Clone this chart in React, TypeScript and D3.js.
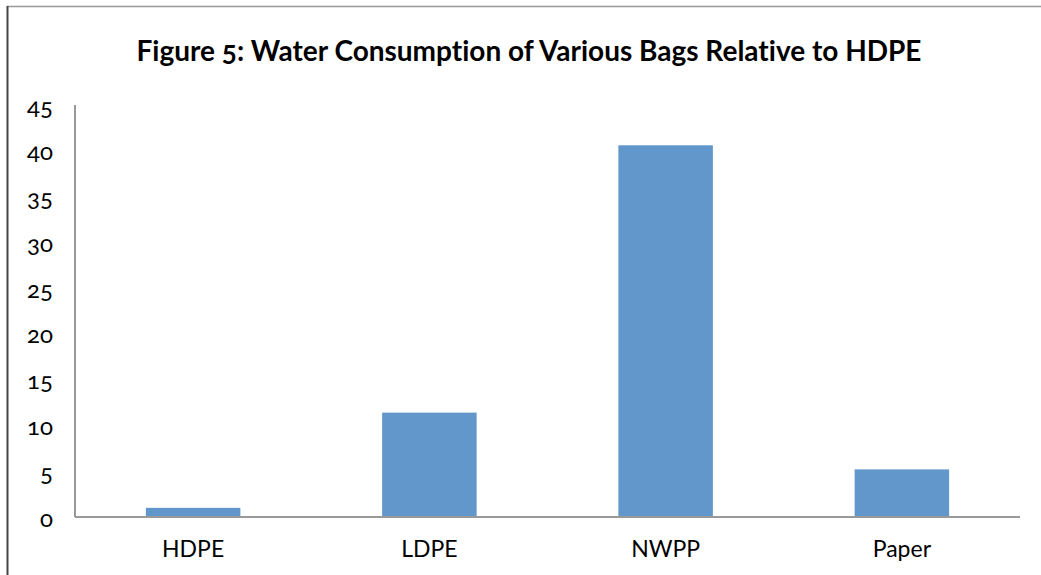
import React from "react";
import * as d3 from "d3";

const categories = ["HDPE", "LDPE", "NWPP", "Paper"];
const values = [1.0, 11.4, 40.6, 5.2];
const yTicks = [0, 5, 10, 15, 20, 25, 30, 35, 40, 45];
const title = "Figure 5: Water Consumption of Various Bags Relative to HDPE";

const W = 1041;
const H = 575;
const plot = { left: 75, right: 1020, top: 105, bottom: 517 };
const FONT = "Lato, 'Open Sans', sans-serif";

export default function App() {
  const x = d3
    .scaleBand<string>()
    .domain(categories)
    .range([plot.left, plot.right])
    .paddingInner(0.6)
    .paddingOuter(0.3);
  const y = d3.scaleLinear().domain([0, 45]).range([plot.bottom, plot.top]);

  return (
    <svg
      width={W}
      height={H}
      style={{ position: "absolute", left: 0, top: 0, background: "#fff" }}
      fontFamily={FONT}
    >
      {/* frame */}
      <line x1={7} x2={W} y1={6.5} y2={6.5} stroke="#999" strokeWidth={1.5} />
      <line x1={7.5} x2={7.5} y1={6} y2={H} stroke="#444" strokeWidth={2} />

      <text
        x={529}
        y={61}
        textAnchor="middle"
        fontSize={28}
        fontWeight="bold"
        fill="#000"
        style={{ fontVariantNumeric: "oldstyle-nums", fontVariantLigatures: "none" }}
      >
        {title}
      </text>

      {/* bars */}
      {values.map((v, i) => (
        <rect
          key={categories[i]}
          x={x(categories[i])}
          y={y(v)}
          width={x.bandwidth()}
          height={y(0) - y(v)}
          fill="#6197CA"
        />
      ))}

      {/* axes */}
      <line x1={plot.left} x2={plot.left} y1={plot.top} y2={plot.bottom} stroke="#999" strokeWidth={2} />
      <line x1={plot.left} x2={plot.right} y1={plot.bottom} y2={plot.bottom} stroke="#999" strokeWidth={2} />

      {yTicks.map((t) => (
        <text
          key={t}
          x={53}
          y={y(t)}
          dy="0.4em"
          textAnchor="end"
          fontSize={24}
          fill="#000"
          style={{ fontVariantNumeric: "oldstyle-nums" }}
        >
          {t}
        </text>
      ))}

      {categories.map((c) => (
        <text
          key={c}
          x={(x(c) ?? 0) + x.bandwidth() / 2}
          y={557}
          textAnchor="middle"
          fontSize={23}
          fill="#000"
        >
          {c}
        </text>
      ))}
    </svg>
  );
}
